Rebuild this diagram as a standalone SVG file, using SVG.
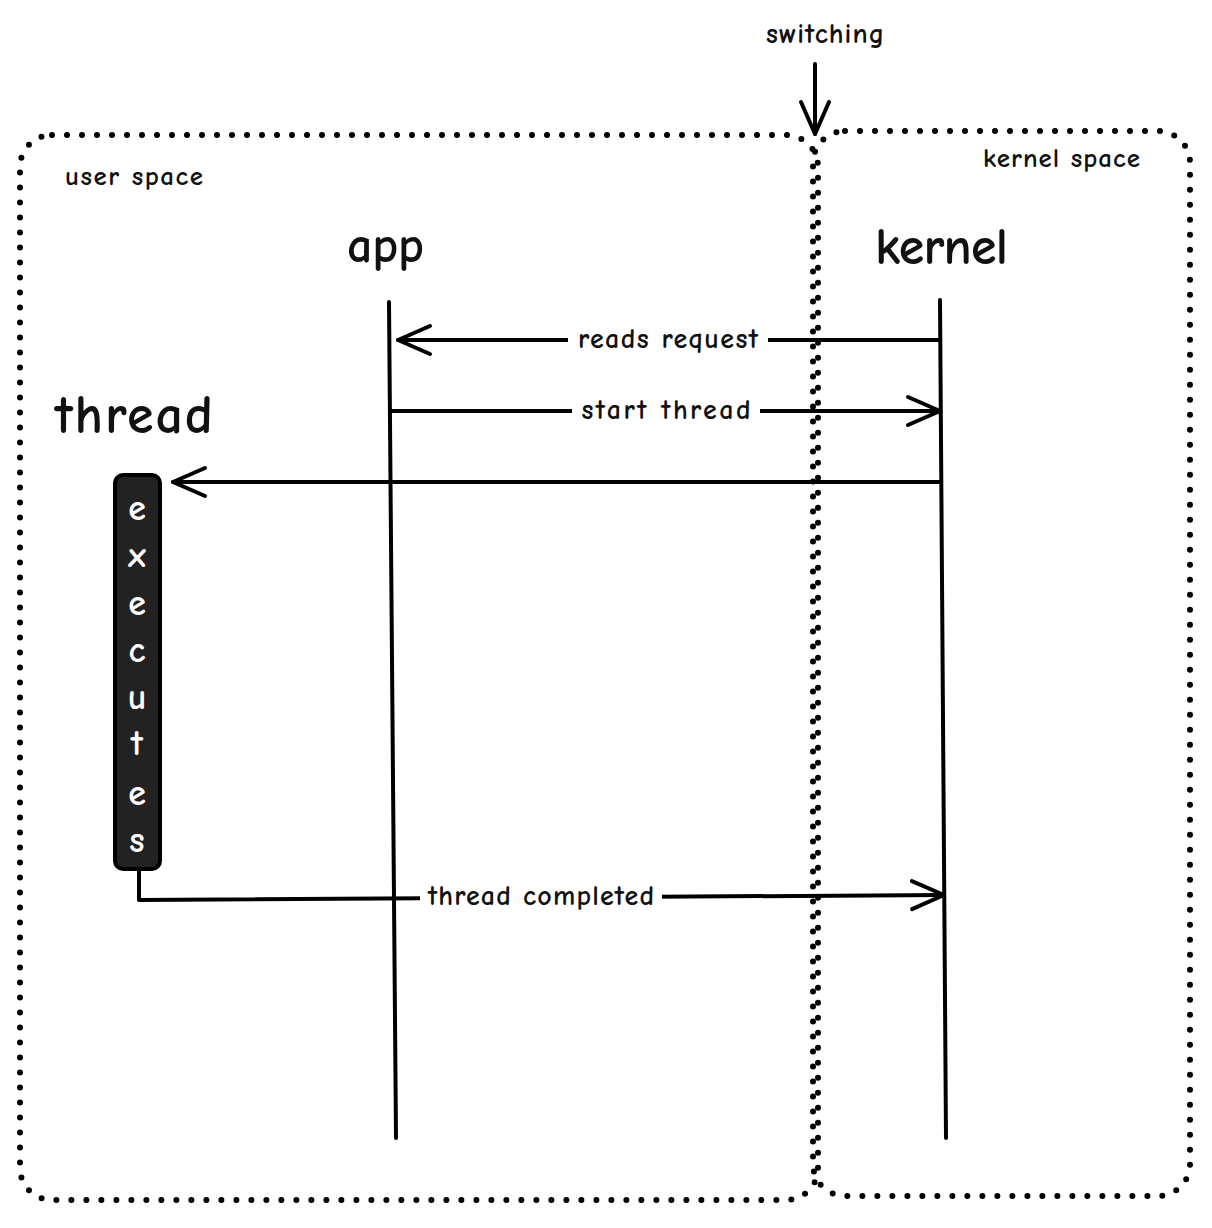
<svg xmlns="http://www.w3.org/2000/svg" width="1212" height="1228" viewBox="0 0 1212 1228">
<defs>
<style>
.t{font-family:"Comic Neue","Liberation Sans",sans-serif;fill:#111}
.dot{fill:none;stroke:#000;stroke-width:6;stroke-linecap:round;stroke-dasharray:0 15}
.ln{fill:none;stroke:#000;stroke-width:4;stroke-linecap:round;stroke-linejoin:round}
.lbl{font-family:"Comic Neue","Liberation Sans",sans-serif;font-size:28px;font-weight:bold;fill:#111;text-anchor:middle;dominant-baseline:central}
</style>
<marker id="ahL" viewBox="0 0 40 40" refX="36" refY="20" markerWidth="40" markerHeight="40" markerUnits="userSpaceOnUse" orient="auto">
<path d="M4 6 L36 20 L4 34" fill="none" stroke="#000" stroke-width="4" stroke-linecap="round" stroke-linejoin="round"/>
</marker>
</defs>
<rect width="1212" height="1228" fill="#fff"/>

<g id="user-space">
<rect class="dot" x="20" y="135" width="798" height="1065" rx="32"/>
<text class="t" x="65" y="185" font-size="27" font-weight="bold" textLength="138" lengthAdjust="spacing">user space</text>
</g>
<g id="kernel-space">
<rect class="dot" x="813" y="131" width="377" height="1065" rx="32"/>
<text class="t" x="983" y="167" font-size="27" font-weight="bold" textLength="157" lengthAdjust="spacing">kernel space</text>
</g>
<g id="switching">
<text class="t" x="766" y="43" font-size="28" font-weight="bold" textLength="118" lengthAdjust="spacing">switching</text>
</g>

<g id="app">
<text class="t" x="347" y="262" font-size="50" font-weight="bold" textLength="77" lengthAdjust="spacing">app</text>
<line class="ln" x1="389" y1="302" x2="396" y2="1138"/>
</g>
<g id="kernel">
<text class="t" x="875" y="264" font-size="52" font-weight="bold" textLength="133" lengthAdjust="spacing">kernel</text>
<line class="ln" x1="940" y1="300" x2="946" y2="1138"/>
</g>
<g id="thread">
<text class="t" x="55" y="433" font-size="54" font-weight="bold" textLength="158" lengthAdjust="spacing">thread</text>
<rect x="115" y="475" width="45" height="394" rx="8" fill="#222" stroke="#000" stroke-width="4"/>
<g font-family="Comic Neue,Liberation Sans,sans-serif" font-size="36" font-weight="bold" fill="#fff" text-anchor="middle" dominant-baseline="central">
<text x="137" y="508">e</text>
<text x="137" y="555">x</text>
<text x="137" y="603">e</text>
<text x="137" y="650">c</text>
<text x="137" y="697">u</text>
<text x="137" y="743">t</text>
<text x="137" y="793">e</text>
<text x="137" y="840">s</text>
</g>
</g>

<g id="connectors">
<line class="ln" x1="815" y1="64" x2="815" y2="134" marker-end="url(#ahL)"/>
<line class="ln" x1="940" y1="340" x2="398" y2="340" marker-end="url(#ahL)"/>
<line class="ln" x1="391" y1="411" x2="940" y2="411" marker-end="url(#ahL)"/>
<line class="ln" x1="940" y1="482" x2="173" y2="482" marker-end="url(#ahL)"/>
<polyline class="ln" points="139,870 139,900 944,895" marker-end="url(#ahL)"/>
<rect x="568" y="325" width="200" height="30" fill="#fff"/>
<text class="lbl" x="668" y="339" textLength="180" lengthAdjust="spacing">reads request</text>
<rect x="572" y="396" width="188" height="30" fill="#fff"/>
<text class="lbl" x="666" y="410" textLength="169" lengthAdjust="spacing">start thread</text>
<rect x="420" y="882" width="242" height="30" fill="#fff"/>
<text class="lbl" x="541" y="896" textLength="226" lengthAdjust="spacing">thread completed</text>
</g>
</svg>
